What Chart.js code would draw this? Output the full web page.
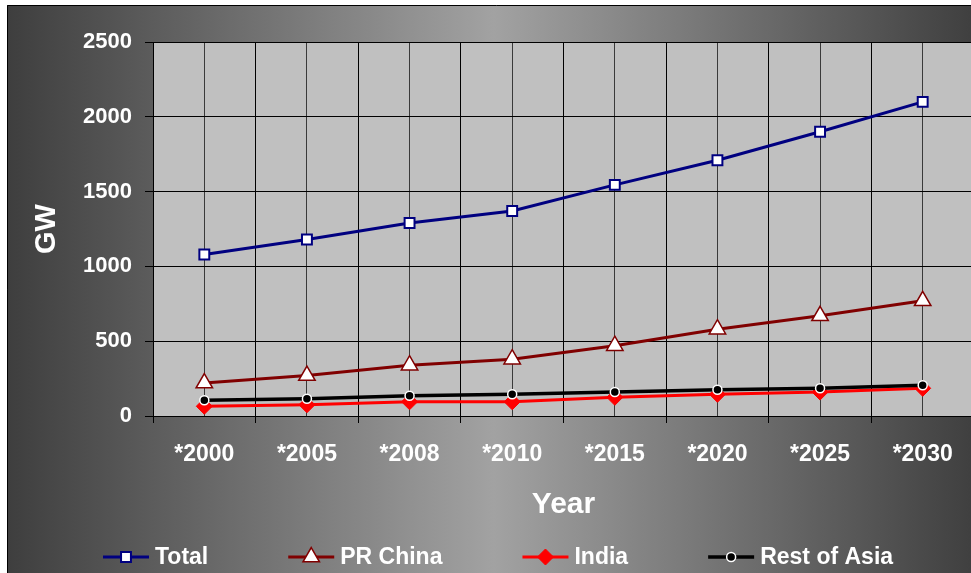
<!DOCTYPE html>
<html>
<head>
<meta charset="utf-8">
<title>GW Asia</title>
<script src="https://cdn.jsdelivr.net/npm/chart.js@4.4.1/dist/chart.umd.min.js"></script>
<style>
  html, body { margin: 0; padding: 0; background: #fff; overflow: hidden; }
  canvas { display: block; }
</style>
</head>
<body>
<canvas id="gwChart" width="985" height="573" style="width:985px;height:573px"></canvas>
<script>
const years = ['*2000', '*2005', '*2008', '*2010', '*2015', '*2020', '*2025', '*2030'];
const totalGW = [1080, 1180, 1290, 1370, 1545, 1710, 1900, 2100];
const chinaGW = [220, 270, 340, 380, 470, 580, 670, 770];
const indiaGW = [65, 75, 95, 95, 125, 145, 160, 185];
const restAsiaGW = [105, 115, 135, 145, 160, 175, 185, 205];
const yTicks = [0, 500, 1000, 1500, 2000, 2500];

const FONT = '"Liberation Sans", Arial, sans-serif';

// grey frame with the light plot area behind the lines
const frameBackground = {
    id: 'frameBackground',
    beforeDraw(chart) {
        const { ctx, width, height, chartArea: a } = chart;
        ctx.save();
        ctx.fillStyle = '#fff';
        ctx.fillRect(0, 0, width, height);
        const x0 = 7, y0 = 5, x1 = 980;
        const g = ctx.createLinearGradient(x0, 0, x1, 0);
        g.addColorStop(0, '#3e3e3e');
        g.addColorStop(0.5, '#a2a2a2');
        g.addColorStop(1, '#3e3e3e');
        ctx.fillStyle = g;
        ctx.fillRect(x0, y0, width - x0, height - y0);
        ctx.strokeStyle = '#000';
        ctx.lineWidth = 1;
        ctx.beginPath();
        ctx.moveTo(x0 + 0.5, height);
        ctx.lineTo(x0 + 0.5, y0 + 0.5);
        ctx.lineTo(width, y0 + 0.5);
        ctx.stroke();
        ctx.fillStyle = '#c0c0c0';
        ctx.fillRect(a.left, a.top, a.right - a.left, a.bottom - a.top);
        ctx.restore();
    }
};

// legend row: line + marker + label, like the series
const lineLegend = {
    id: 'lineLegend',
    afterDraw(chart) {
        const ctx = chart.ctx;
        const y = 557;
        let x = 103;
        ctx.save();
        ctx.font = 'bold 23px ' + FONT;
        ctx.textBaseline = 'middle';
        chart.data.datasets.forEach(ds => {
            ctx.strokeStyle = ds.borderColor;
            ctx.lineWidth = ds.borderWidth;
            ctx.beginPath();
            ctx.moveTo(x, y);
            ctx.lineTo(x + 46, y);
            ctx.stroke();
            ctx.fillStyle = ds.pointBackgroundColor;
            ctx.strokeStyle = ds.pointBorderColor;
            ctx.lineWidth = ds.pointBorderWidth;
            Chart.helpers.drawPoint(ctx, {
                pointStyle: ds.pointStyle, radius: ds.pointRadius,
                rotation: 0, borderWidth: ds.pointBorderWidth
            }, x + 23, y);
            ctx.fillStyle = '#fff';
            ctx.textAlign = 'left';
            ctx.fillText(ds.label, x + 52, y + 1);
            x += 52 + ctx.measureText(ds.label).width + 80;
        });
        ctx.restore();
    }
};

function makeSeries(label, data, color, style, extra) {
    return Object.assign({
        label: label,
        data: data,
        borderColor: color,
        borderWidth: 3,
        tension: 0,
        pointStyle: style,
        pointHoverRadius: 0
    }, extra);
}

function initChart() {
    Chart.defaults.font.family = FONT;
    Chart.defaults.color = '#fff';

    const ctx = document.getElementById('gwChart').getContext('2d');
    new Chart(ctx, {
        type: 'line',
        data: {
            labels: years,
            datasets: [
                makeSeries('Total', totalGW, '#000080', 'rect', {
                    pointRadius: 7, pointBackgroundColor: '#fff', pointBorderColor: '#000080', pointBorderWidth: 2, order: 4
                }),
                makeSeries('PR China', chinaGW, '#800000', 'triangle', {
                    pointRadius: 9.5, pointBackgroundColor: '#fff', pointBorderColor: '#800000', pointBorderWidth: 1.5, order: 3
                }),
                makeSeries('India', indiaGW, '#ff0000', 'rectRot', {
                    pointRadius: 8, pointBackgroundColor: '#ff0000', pointBorderColor: '#ff0000', pointBorderWidth: 1, order: 2
                }),
                makeSeries('Rest of Asia', restAsiaGW, '#000000', 'circle', {
                    borderWidth: 3.5, pointRadius: 4.5, pointBackgroundColor: '#000', pointBorderColor: '#fff', pointBorderWidth: 1.5, order: 1
                })
            ]
        },
        options: {
            responsive: false,
            animation: false,
            events: [],
            layout: { padding: { left: 10, top: 42, right: 10, bottom: 0 } },
            plugins: { legend: { display: false }, tooltip: { enabled: false } },
            scales: {
                x: {
                    type: 'category',
                    offset: true,
                    grid: { offset: true, color: '#000', tickLength: 7 },
                    border: { color: '#000' },
                    ticks: { color: '#fff', font: { size: 23, weight: 'bold' }, padding: 18, maxRotation: 0, autoSkip: false },
                    title: { display: true, text: 'Year', color: '#fff', font: { size: 30, weight: 'bold' }, padding: { top: 0, bottom: 50 } },
                    afterFit: s => { s.height = 157; }
                },
                // lines through each category centre
                xMid: {
                    type: 'category',
                    position: 'bottom',
                    offset: true,
                    grid: { offset: false, color: '#3a3a3a', drawTicks: false },
                    border: { display: false },
                    ticks: { display: false },
                    afterFit: s => { s.height = 0; }
                },
                y: {
                    min: yTicks[0],
                    max: yTicks[yTicks.length - 1],
                    afterBuildTicks: s => { s.ticks = yTicks.map(v => ({ value: v })); },
                    grid: { color: '#000', tickLength: 8 },
                    border: { color: '#000' },
                    ticks: { color: '#fff', font: { size: 22, weight: 'bold' }, padding: 13, callback: v => String(v) },
                    title: { display: true, text: 'GW', color: '#fff', font: { size: 29, weight: 'bold' }, padding: { top: 20, bottom: 0 } },
                    afterFit: s => { s.width = 143; }
                }
            }
        },
        plugins: [frameBackground, lineLegend]
    });
}

window.onload = initChart;
</script>
</body>
</html>
